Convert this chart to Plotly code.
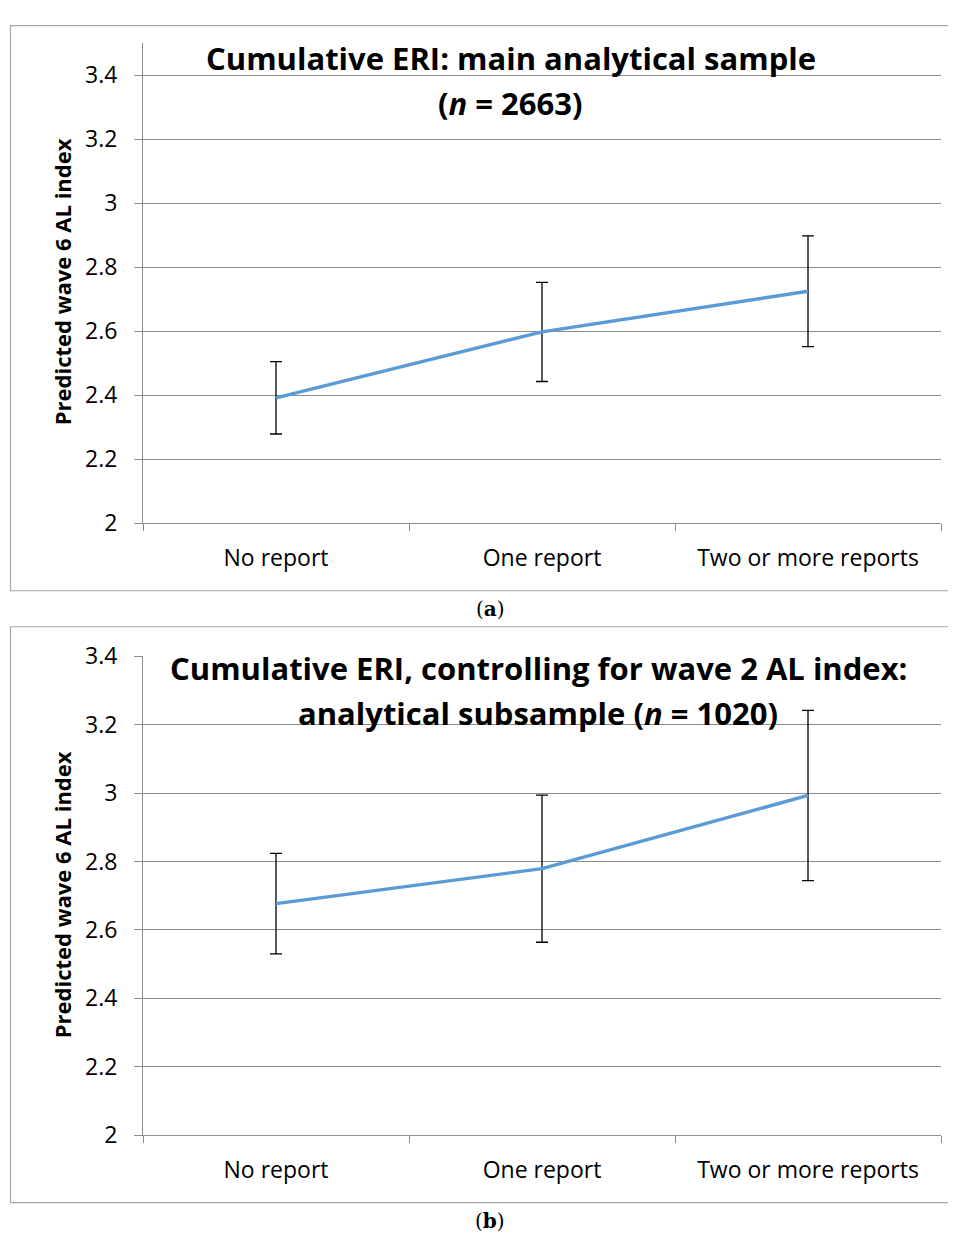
import plotly.graph_objects as go

# Figure size and the measured mapping from figure pixels to the photographed page
FW, FH = 940, 1240
X_OFF = 8          # page x = X_OFF + figure x
Y_OFF, Y_SC = 24.7, 0.9743   # page y = Y_OFF + Y_SC * figure y

categories = ["No report", "One report", "Two or more reports"]

# Panel (a): main analytical sample
a_values = [2.392, 2.598, 2.725]
a_errors = [0.113, 0.155, 0.173]

# Panel (b): analytical subsample, controlling for wave 2 AL index
b_values = [2.677, 2.779, 2.993]
b_errors = [0.147, 0.215, 0.249]

y_ticks = [2, 2.2, 2.4, 2.6, 2.8, 3, 3.2, 3.4]
y_ticktext = ["2", "2.2", "2.4", "2.6", "2.8", "3", "3.2", "3.4"]

title_a = ["Cumulative ERI: main analytical sample", "(<i>n</i> = 2663)"]
title_b = ["Cumulative ERI, controlling for wave 2 AL index:", "analytical subsample (<i>n</i> = 1020)"]
y_title = "Predicted wave 6 AL index"

FONT = "'Open Sans', Lato, sans-serif"
GRID = "#8c8c8c"
LINE_COLOR = "#5B9BD5"


def px(x):
    return (x - X_OFF) / FW


def py(y):
    return 1 - ((y - Y_OFF) / Y_SC) / FH


fig = go.Figure()

for vals, errs, xa, ya in [(a_values, a_errors, "x", "y"), (b_values, b_errors, "x2", "y2")]:
    fig.add_trace(go.Scatter(
        x=categories, y=vals, mode="lines",
        line=dict(color=LINE_COLOR, width=3.4),
        error_y=dict(type="data", array=errs, visible=True, color="#000000", thickness=1.3, width=6),
        xaxis=xa, yaxis=ya, showlegend=False, hoverinfo="x+y",
    ))

xaxis_common = dict(
    type="category", range=[-0.5, 2.5], showgrid=False, showline=True, linecolor=GRID, linewidth=1,
    ticks="outside", tickson="boundaries", ticklen=7, tickcolor=GRID, ticklabelstandoff=14,
    tickfont=dict(family=FONT, size=23, color="#000000"), fixedrange=True,
)
yaxis_common = dict(
    showgrid=True, gridcolor=GRID, gridwidth=1, showline=True, linecolor=GRID, linewidth=1,
    ticks="outside", ticklen=8, tickcolor=GRID, tickvals=y_ticks, ticktext=y_ticktext,
    ticklabelstandoff=12,
    tickfont=dict(family=FONT, size=23, color="#000000"), zeroline=False, fixedrange=True,
)

fig.update_layout(
    width=FW, height=FH,
    margin=dict(l=0, r=0, t=0, b=0),
    paper_bgcolor="white", plot_bgcolor="white",
    xaxis=dict(domain=[px(143), px(941)], anchor="y", **xaxis_common),
    yaxis=dict(domain=[py(523), py(43)], anchor="x", range=[2, 3.5], **yaxis_common),
    xaxis2=dict(domain=[px(143), px(941)], anchor="y2", **xaxis_common),
    yaxis2=dict(domain=[py(1135), py(656)], anchor="x2", range=[2, 3.4], **yaxis_common),
)

shapes = [
    dict(type="rect", xref="paper", yref="paper", x0=px(10.5), x1=px(960), y0=min(py(14.5), 0.9995), y1=py(590.5),
         line=dict(color="#a6a6a6", width=1.2), fillcolor="rgba(0,0,0,0)", layer="below"),
    dict(type="rect", xref="paper", yref="paper", x0=px(10.5), x1=px(960), y0=py(626.5), y1=py(1202.5),
         line=dict(color="#a6a6a6", width=1.2), fillcolor="rgba(0,0,0,0)", layer="below"),
]
fig.update_layout(shapes=shapes)

ann = []
# Titles
for text, xc, yc in [(title_a[0], 511, 58), (title_a[1], 511, 103),
                     (title_b[0], 538, 668), (title_b[1], 538, 713)]:
    ann.append(dict(text="<b>" + text + "</b>", x=px(xc), y=py(yc), xref="paper", yref="paper",
                    xanchor="center", yanchor="middle", showarrow=False,
                    font=dict(family=FONT, size=31, color="#000000")))
# Y-axis titles
for yc in [282, 895]:
    ann.append(dict(text="<b>" + y_title + "</b>", x=px(62), y=py(yc), xref="paper", yref="paper",
                    xanchor="center", yanchor="middle", textangle=-90, showarrow=False,
                    font=dict(family=FONT, size=22, color="#000000")))
# Captions
for text, yc in [("(<b>a</b>)", 609), ("(<b>b</b>)", 1221)]:
    ann.append(dict(text=text, x=px(490), y=py(yc), xref="paper", yref="paper",
                    xanchor="center", yanchor="middle", showarrow=False,
                    font=dict(family="'DejaVu Serif', 'Liberation Serif', serif", size=20, color="#000000")))
fig.update_layout(annotations=ann)

fig.write_html("out.html")
